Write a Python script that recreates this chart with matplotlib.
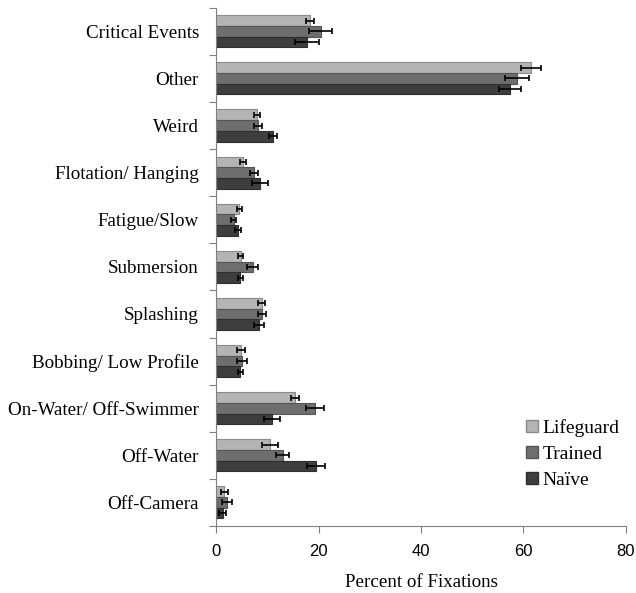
"""Percent of fixations by category for three observer groups."""
import numpy as np
import matplotlib.pyplot as plt
from matplotlib.patches import Patch

categories = ["Critical Events", "Other", "Weird", "Flotation/ Hanging",
              "Fatigue/Slow", "Submersion", "Splashing", "Bobbing/ Low Profile",
              "On-Water/ Off-Swimmer", "Off-Water", "Off-Camera"]

groups = ["Lifeguard", "Trained", "Naïve"]

lifeguard = [18.3, 61.5, 7.9, 5.3, 4.5, 4.8, 8.9, 4.8, 15.4, 10.5, 1.6]
trained = [20.4, 58.7, 8.1, 7.3, 3.4, 7.1, 8.9, 5.0, 19.3, 13.0, 2.1]
naive = [17.7, 57.4, 11.1, 8.6, 4.2, 4.7, 8.3, 4.7, 10.9, 19.5, 1.3]

lifeguard_err = [0.8, 2.0, 0.6, 0.6, 0.5, 0.5, 0.7, 0.8, 0.8, 1.5, 0.6]
trained_err = [2.2, 2.3, 0.8, 0.8, 0.5, 1.1, 0.8, 1.0, 1.8, 1.3, 0.9]
naive_err = [2.3, 2.1, 0.8, 1.6, 0.6, 0.5, 1.0, 0.5, 1.6, 1.8, 0.7]

x_ticks = [0, 20, 40, 60, 80]

colors = ["#b4b4b4", "#6e6e6e", "#3e3e3e"]
edges = ["#8a8a8a", "#555555", "#2e2e2e"]

serif = ["Liberation Serif", "DejaVu Serif"]
sans = ["Liberation Sans", "DejaVu Sans"]

fig, ax = plt.subplots(figsize=(6.36, 5.93), dpi=100)
fig.subplots_adjust(left=0.34, right=0.984, top=0.987, bottom=0.113)

y = np.arange(len(categories))
h = 0.227
series = [(lifeguard, lifeguard_err), (trained, trained_err), (naive, naive_err)]
for i, (vals, errs) in enumerate(series):
    ax.barh(y + (i - 1) * h, vals, height=h, xerr=errs, color=colors[i],
            edgecolor=edges[i], linewidth=0.8,
            error_kw=dict(ecolor="black", elinewidth=1.2, capsize=2, capthick=1.2))

ax.set_ylim(len(categories) - 0.5, -0.5)
ax.set_xlim(0, 80)

# category labels sit between boundary ticks
ax.set_yticks(np.arange(len(categories) + 1) - 0.5)
ax.set_yticklabels([])
ax.set_yticks(y, minor=True)
ax.set_yticklabels(categories, minor=True, fontfamily=serif, fontsize=13.7)
ax.tick_params(axis="y", which="minor", length=0, pad=12.5)
ax.tick_params(axis="y", which="major", length=5, color="#808080")

ax.set_xticks(x_ticks)
ax.set_xticklabels([str(t) for t in x_ticks], fontfamily=sans, fontsize=12)
ax.tick_params(axis="x", length=5, color="#808080", pad=8)
ax.set_xlabel("Percent of Fixations", fontfamily=serif, fontsize=13.7, labelpad=11)

for side in ["top", "right"]:
    ax.spines[side].set_visible(False)
for side in ["left", "bottom"]:
    ax.spines[side].set_color("#808080")

legend_elements = [Patch(facecolor=colors[i], edgecolor=edges[i], label=groups[i])
                   for i in range(3)]
ax.legend(handles=legend_elements, loc="upper left", bbox_to_anchor=(0.827, 0.294),
          bbox_transform=fig.transFigure, borderaxespad=0, borderpad=0,
          frameon=False, prop={"family": serif, "size": 14},
          handlelength=0.6, handleheight=0.6, handletextpad=0.25, labelspacing=0.47)

fig.savefig("out.png", dpi=100)
